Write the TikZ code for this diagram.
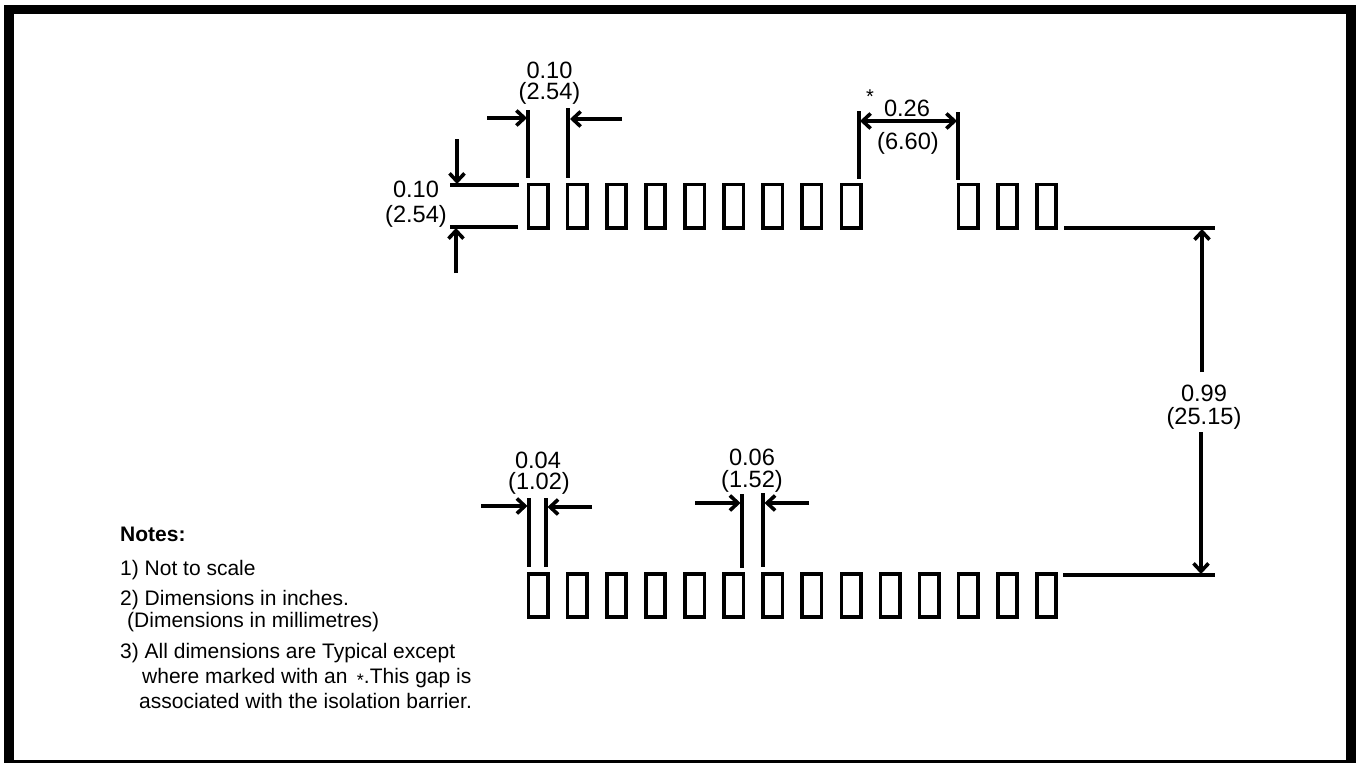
\documentclass[tikz,border=0pt]{standalone}
\usepackage{fontspec}
\setmainfont{Liberation Sans}
\usetikzlibrary{arrows.meta}
\tikzset{
  pad/.style={draw, line width=3.6pt, minimum width=19.4pt, minimum height=43.4pt, inner sep=0pt},
  ext/.style={line width=3.6pt},
  barb/.tip={Straight Barb[length=8pt, width=15pt, line width=3.6pt]},
  dim/.style={line width=3.6pt, -barb},
  dimboth/.style={line width=3.6pt, barb-barb},
  val/.style={font=\fontsize{23.6}{23.6}\selectfont, inner sep=0pt},
  note/.style={font=\fontsize{21}{21}\selectfont, inner sep=0pt, anchor=base west}
}
\begin{document}
\begin{tikzpicture}[x=1pt, y=-1pt]
    \useasboundingbox (0,0) rectangle (1361,763);
    % Draw frame
    \draw[line width=9.4pt] (8.8,9.2) rectangle (1351,764.5);
    % Draw top row of pads
    \foreach \i in {0,...,8,11,12,13}
        \node[pad] (top\i) at ({538.2+39.1*\i},206) {};
    % Draw bottom row of pads
    \foreach \i in {0,...,13}
        \node[pad] (bot\i) at ({538.2+39.1*\i},595.5) {};
    % Draw pad pitch
    \draw[ext] (528,110) -- (528,178);
    \draw[ext] (568,108) -- (568,178);
    \draw[dim] (487,118) -- (527,118);
    \draw[dim] (622,119) -- (570,119);
    \node[val, align=center, font=\fontsize{23.6}{21.5}\selectfont] (pitch) at (549.5,83) {0.10\\(2.54)};
    % Draw pad height
    \draw[ext] (450,185) -- (519,185);
    \draw[ext] (450,227) -- (518,227);
    \draw[dim] (457,139) -- (457,184);
    \draw[dim] (456,273) -- (456,228);
    \node[val] (heightin) at (416,189) {0.10};
    \node[val] (heightmm) at (416,216) {(2.54)};
    % Draw isolation gap
    \draw[ext] (859,111) -- (859,179);
    \draw[ext] (958,112) -- (958,180);
    \draw[dimboth] (860,121) -- (957,121);
    \node[font=\fontsize{20}{20}\selectfont, inner sep=0pt] (star) at (870,97) {*};
    \node[val] (gapin) at (907,108) {0.26};
    \node[val] (gapmm) at (908,143) {(6.60)};
    % Draw row spacing
    \draw[ext] (1064,228) -- (1215,228);
    \draw[ext] (1063,575) -- (1215,575);
    \draw[dim] (1202,372) -- (1202,229);
    \draw[dim] (1201,432) -- (1201,574);
    \node[val] (rowin) at (1204,393) {0.99};
    \node[val] (rowmm) at (1204,418) {(25.15)};
    % Draw pad gap
    \draw[ext] (529,498) -- (529,567);
    \draw[ext] (546,498) -- (546,567);
    \draw[dim] (481,506) -- (527.5,506);
    \draw[dim] (592,507) -- (547.5,507);
    \node[val] (gapsmallin) at (538,460) {0.04};
    \node[val] (gapsmallmm) at (539,483) {(1.02)};
    % Draw pad width
    \draw[ext] (742,494) -- (742,568);
    \draw[ext] (763,493) -- (763,567);
    \draw[dim] (695,503) -- (740.5,503);
    \draw[dim] (809,503) -- (764.5,503);
    \node[val] (widthin) at (752,457) {0.06};
    \node[val] (widthmm) at (752,481) {(1.52)};
    % Write notes
    \node[note] (notes) at (120,541) {\textbf{Notes:}};
    \node[note] (noteone) at (120,575) {1) Not to scale};
    \node[note] (notetwo) at (120,605) {2) Dimensions in inches.};
    \node[note] (notetwob) at (127,627) {(Dimensions in millimetres)};
    \node[note] (notethree) at (120,658) {3) All dimensions are Typical except};
    \node[note] (notethreeb) at (142,683) {where marked with an \,\raisebox{-0.35ex}{\fontsize{18}{18}\selectfont *}.This gap is};
    \node[note] (notethreec) at (139,708) {associated with the isolation barrier.};
\end{tikzpicture}
\end{document}
